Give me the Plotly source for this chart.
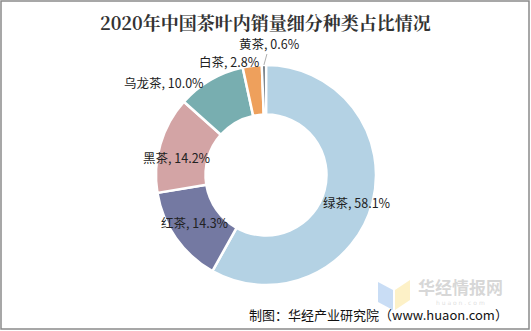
import math
import plotly.graph_objects as go

categories = ["绿茶", "红茶", "黑茶", "乌龙茶", "白茶", "黄茶"]
shares = [58.1, 14.3, 14.2, 10.0, 2.8, 0.6]
colors = ["#b4d2e4", "#7479a2", "#d3a4a5", "#78aeb0", "#eea05c", "#56606a"]
title_text = "2020年中国茶叶内销量细分种类占比情况"
source_text = "制图：华经产业研究院（www.huaon.com）"

# label styling: radial fraction where the label is anchored and pixel offsets
label_radius = [0.8, 0.8, 0.8, 1.0, 1.0, 1.0]
label_dx = [6, 1, -4, -47, -23, 6]
label_dy = [5, -3, 7, 3, -4, -22]
leader_line = [False, False, False, False, False, True]

W, H = 531, 331
ml, mr, mt, mb = 156, 155, 65, 46
pw = W - ml - mr
ph = H - mt - mb
R_px = min(pw, ph) / 2.0
cx_px = ml + pw / 2.0
cy_px = mt + ph / 2.0


def px(x):
    return (x - ml) / pw


def py(y):
    return 1 - (y - mt) / ph


fig = go.Figure(go.Pie(
    labels=categories,
    values=shares,
    textinfo="none",
    hole=0.55,
    sort=False,
    direction="clockwise",
    rotation=0,
    marker=dict(colors=colors, line=dict(color="white", width=2.5)),
    showlegend=False,
    hoverinfo="label+percent",
))

font_lbl = dict(family="Noto Sans CJK SC, sans-serif", size=12.5, color="#222222")
annotations = []
total = sum(shares)
cum = 0.0
for i, (c, v) in enumerate(zip(categories, shares)):
    mid = (cum + v / 2.0) / total * 2 * math.pi  # clockwise from top
    cum += v
    r = label_radius[i] * R_px
    x_pt = cx_px + r * math.sin(mid)
    y_pt = cy_px - r * math.cos(mid)
    annotations.append(dict(
        text=f"{c}, {v:.1f}%",
        x=px(x_pt), y=py(y_pt), xref="paper", yref="paper",
        showarrow=True, ax=label_dx[i], ay=label_dy[i],
        arrowhead=0, arrowwidth=0.8, standoff=0,
        arrowcolor="#9a9a9a" if leader_line[i] else "rgba(0,0,0,0)",
        font=font_lbl,
    ))

annotations += [
    dict(text=f"<b>{title_text}</b>", x=px(265), y=py(22), xref="paper", yref="paper",
         showarrow=False, xanchor="center", yanchor="middle",
         font=dict(family="Noto Serif CJK SC, Noto Sans CJK SC, serif", size=18, color="#333333")),
    dict(text="<b>华经情报网</b>", x=px(460), y=py(286), xref="paper", yref="paper",
         showarrow=False, xanchor="center", yanchor="middle", borderpad=0,
         font=dict(family="Noto Sans CJK SC", size=17, color="rgba(175,175,175,0.5)")),
    dict(text="h u a o n . c o m", x=px(460), y=py(302), xref="paper", yref="paper",
         showarrow=False, xanchor="center", yanchor="middle", borderpad=0,
         font=dict(family="DejaVu Sans", size=6, color="rgba(190,190,190,0.5)")),
    dict(text=source_text, x=px(509), y=py(314), xref="paper", yref="paper",
         showarrow=False, xanchor="right", yanchor="middle", borderpad=0,
         font=dict(family="Noto Sans CJK SC, sans-serif", size=13, color="#111111")),
]

fig.update_layout(
    width=W, height=H,
    margin=dict(l=ml, r=mr, t=mt, b=mb),
    paper_bgcolor="white",
    plot_bgcolor="white",
    annotations=annotations,
    shapes=[
        dict(type="rect", xref="paper", yref="paper", x0=px(1), x1=px(529), y0=py(1), y1=py(329),
             line=dict(color="#8a8a8a", width=1.5), fillcolor="rgba(0,0,0,0)", layer="below"),
        dict(type="path", xref="paper", yref="paper",
             path=f"M {px(378)} {py(282)} L {px(393)} {py(290)} L {px(393)} {py(310)} L {px(378)} {py(302)} Z",
             line=dict(width=0), fillcolor="rgba(120,170,230,0.4)", layer="below"),
        dict(type="path", xref="paper", yref="paper",
             path=f"M {px(395)} {py(290)} L {px(410)} {py(280)} L {px(410)} {py(300)} L {px(395)} {py(310)} Z",
             line=dict(width=0), fillcolor="rgba(250,225,130,0.45)", layer="below"),
    ],
)

fig.write_html("out.html")
